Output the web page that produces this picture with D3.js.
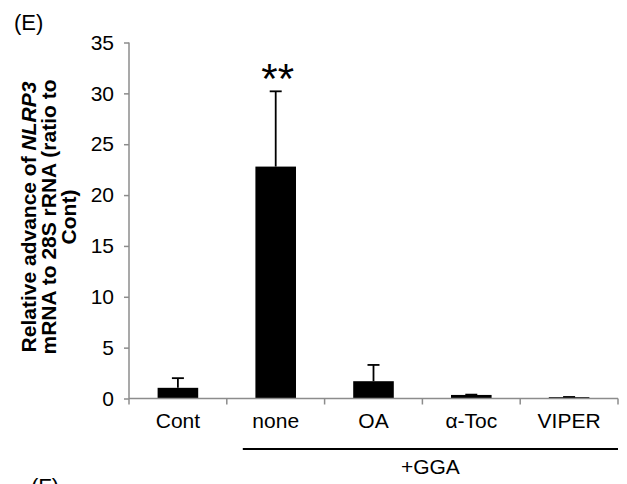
<!DOCTYPE html>
<html>
<head>
<meta charset="utf-8">
<script src="https://cdn.jsdelivr.net/npm/d3@7"></script>
<style>
  body { margin: 0; background: #fff; }
  text { font-family: "Liberation Sans", Arial, Helvetica, sans-serif; }
</style>
</head>
<body>
<svg id="chart" width="627" height="484"></svg>
<script>
let categories = ["Cont", "none", "OA", "α-Toc", "VIPER"]
let means = [1.05, 22.8, 1.7, 0.35, 0.13]
let errors = [0.95, 7.4, 1.6, 0.03, 0.02]
let yTicks = [0, 5, 10, 15, 20, 25, 30, 35]

let axisColor = "#8c8c8c"
let fontSize = 21

let svg = d3.select("#chart")

let xScale = d3.scaleBand()
    .domain(categories)
    .range([129, 618])
    .padding(0)

let yScale = d3.scaleLinear()
    .domain([0, 35])
    .range([398.5, 42.5])

let barWidth = xScale.bandwidth() * 0.415

// bars
svg.selectAll("rect.bar")
   .data(categories)
   .enter()
   .append("rect")
   .attr("class", "bar")
   .attr("x", (d) => xScale(d) + (xScale.bandwidth() - barWidth) / 2)
   .attr("y", (d, i) => yScale(means[i]))
   .attr("width", barWidth)
   .attr("height", (d, i) => yScale(0) - yScale(means[i]))
   .attr("fill", "#000")

// error bars (upper only)
let err = svg.selectAll("g.err")
   .data(categories)
   .enter()
   .append("g")
   .attr("class", "err")

err.append("line")
   .attr("x1", (d) => xScale(d) + xScale.bandwidth() / 2)
   .attr("x2", (d) => xScale(d) + xScale.bandwidth() / 2)
   .attr("y1", (d, i) => yScale(means[i]))
   .attr("y2", (d, i) => yScale(means[i] + errors[i]))
   .attr("stroke", "#000")
   .attr("stroke-width", 1.8)

err.append("line")
   .attr("x1", (d) => xScale(d) + xScale.bandwidth() / 2 - 6)
   .attr("x2", (d) => xScale(d) + xScale.bandwidth() / 2 + 6)
   .attr("y1", (d, i) => yScale(means[i] + errors[i]))
   .attr("y2", (d, i) => yScale(means[i] + errors[i]))
   .attr("stroke", "#000")
   .attr("stroke-width", 1.8)

// y axis
let yAxis = d3.axisLeft(yScale)
    .tickValues(yTicks)
    .tickSize(5)
    .tickPadding(10)

let gy = svg.append("g")
   .attr("transform", "translate(129,0)")
   .call(yAxis)
gy.select(".domain").attr("stroke", axisColor).attr("stroke-width", 1.5)
   .attr("d", "M0," + yScale(35) + "V" + yScale(0))
gy.selectAll(".tick line").attr("stroke", axisColor).attr("stroke-width", 1.5)
gy.selectAll(".tick text").attr("font-size", fontSize).attr("fill", "#000")
   .style("font-family", "'Liberation Sans', Arial, sans-serif")

// x axis: ticks at category boundaries
let xAxis = d3.axisBottom(xScale).tickSize(0).tickPadding(15)
let gx = svg.append("g")
   .attr("transform", "translate(0," + yScale(0) + ")")
   .call(xAxis)
gx.select(".domain").attr("stroke", axisColor).attr("stroke-width", 1.5)
   .attr("d", "M129,0H618")
gx.selectAll(".tick text").attr("font-size", fontSize).attr("fill", "#000")
   .style("font-family", "'Liberation Sans', Arial, sans-serif")

let bounds = categories.map((d) => xScale(d)).concat([xScale.range()[1]])
gx.selectAll("line.bound")
   .data(bounds)
   .enter()
   .append("line")
   .attr("class", "bound")
   .attr("x1", (d) => d)
   .attr("x2", (d) => d)
   .attr("y1", 0)
   .attr("y2", 6)
   .attr("stroke", axisColor)
   .attr("stroke-width", 1.5)

// significance marker
svg.append("text")
   .attr("x", xScale("none") + xScale.bandwidth() / 2 + 2)
   .attr("y", 93)
   .attr("text-anchor", "middle")
   .attr("font-size", 42)
   .text("**")

// +GGA bracket
let gStart = xScale("none") + 16
let gEnd = xScale.range()[1]
svg.append("line")
   .attr("x1", gStart).attr("x2", gEnd)
   .attr("y1", 449).attr("y2", 449)
   .attr("stroke", "#000").attr("stroke-width", 2)
svg.append("text")
   .attr("x", (gStart + gEnd) / 2)
   .attr("y", 474)
   .attr("text-anchor", "middle")
   .attr("font-size", fontSize)
   .text("+GGA")

// y title
let title = svg.append("text")
   .attr("transform", "translate(0,217) rotate(-90)")
   .attr("text-anchor", "middle")
   .attr("font-size", 21)
   .attr("font-weight", "bold")
let t1 = title.append("tspan").attr("x", 0).attr("y", 36)
t1.append("tspan").text("Relative advance of ")
t1.append("tspan").attr("font-style", "italic").text("NLRP3")
title.append("tspan").attr("x", 0).attr("y", 56).text("mRNA to 28S rRNA (ratio to")
title.append("tspan").attr("x", 0).attr("y", 76).text("Cont)")

// panel labels
svg.append("text").attr("x", 14).attr("y", 30).attr("font-size", 22).text("(E)")
svg.append("text").attr("x", 31).attr("y", 494).attr("font-size", 22).text("(F)")
</script>
</body>
</html>
